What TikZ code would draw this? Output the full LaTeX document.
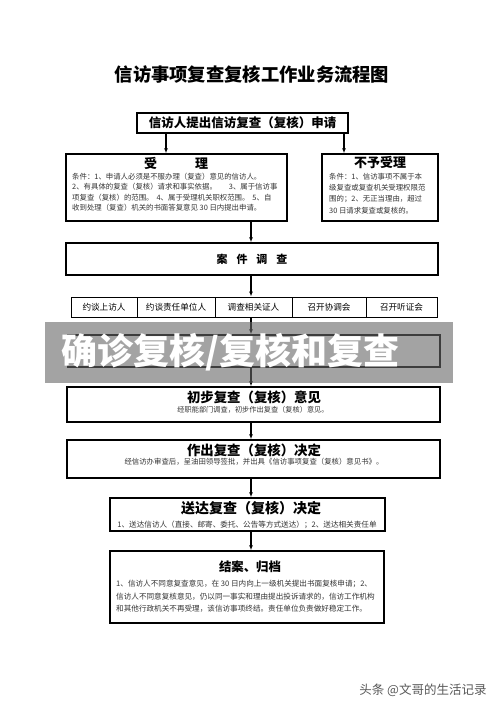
\documentclass[tikz,border=0pt]{standalone}
\usepackage{fontspec}
\setmainfont{Noto Sans CJK SC}
\usetikzlibrary{arrows.meta}
\newcommand{\fs}[1]{\fontsize{#1}{#1}\selectfont}
\begin{document}
\begin{tikzpicture}[x=1pt,y=-1pt,
  bx/.style={draw, line width=1.5pt, rectangle, inner sep=0pt},
  sbx/.style={draw, line width=0.9pt, rectangle, inner sep=0pt},
  ttl/.style={font=\fs{13.4}\bfseries, inner sep=0pt, anchor=center},
  sub/.style={font=\fs{7.2}, text=black!80, inner sep=0pt},
  lines/.style={font=\fs{7.4}, text=black!80, inner sep=0pt, anchor=north west, align=left},
  arr/.style={line width=1.1pt, -{Latex[length=5pt,width=4pt]}},
  rowt/.style={font=\fs{8.6}, inner sep=0pt}]
\useasboundingbox (0,0) rectangle (500,707);
\fill[white] (0,0) rectangle (500,707);

% title
\node[font=\fs{18.3}\bfseries, inner sep=0pt] (title) at (252,74) {信访事项复查复核工作业务流程图};

% top box
\node[bx, minimum width=211pt, minimum height=20pt] (top) at (242.5,123) {};
\node[font=\fs{12.5}\bfseries, inner sep=0pt] (topt) at (top.center) {信访人提出信访复查（复核）申请};

% accept
\node[bx, minimum width=221pt, minimum height=67pt] (acc) at (176.5,187.5) {};
\node[font=\fs{13}\bfseries, inner sep=0pt] (acct) at (176,163) {受\hspace{38pt}理};
\node[lines] (accb) at (72,172) {%
\rule{0pt}{7.4pt}条件：1、申请人必须是不服办理（复查）意见的信访人。\\[2.9pt]
2、有具体的复查（复核）请求和事实依据。\hspace{12pt}3、属于信访事\\[2.9pt]
项复查（复核）的范围。\hspace{3pt}4、属于受理机关职权范围。\hspace{3pt}5、自\\[2.9pt]
收到处理（复查）机关的书面答复意见 30 日内提出申请。};

% reject
\node[bx, minimum width=116pt, minimum height=67pt] (rej) at (380,187.5) {};
\node[font=\fs{13}\bfseries, inner sep=0pt] (rejt) at (380,163) {不予受理};
\node[lines] (rejb) at (329,172) {%
\rule{0pt}{7.4pt}条件：1、信访事项不属于本\\[3.6pt]
级复查或复查机关受理权限范\\[3.6pt]
围的；2、无正当理由，超过\\[3.6pt]
30 日请求复查或复核的。};

% investigation
\node[bx, minimum width=372pt, minimum height=32pt] (inv) at (252,259) {};
\node[font=\fs{11}\bfseries, inner sep=0pt] (invt) at (inv.center) {案\hspace{9pt}件\hspace{9pt}调\hspace{9pt}查};

% row of methods
\node[sbx, minimum width=66pt, minimum height=20pt] (r1) at (104,307) {};
\node[sbx, minimum width=78pt, minimum height=20pt] (r2) at (176,307) {};
\node[sbx, minimum width=77pt, minimum height=20pt] (r3) at (253.5,307) {};
\node[sbx, minimum width=74pt, minimum height=20pt] (r4) at (329,307) {};
\node[sbx, minimum width=71pt, minimum height=20pt] (r5) at (401.5,307) {};
\node[rowt] (r1t) at (r1.center) {约谈上访人};
\node[rowt] (r2t) at (r2.center) {约谈责任单位人};
\node[rowt] (r3t) at (r3.center) {调查相关证人};
\node[rowt] (r4t) at (r4.center) {召开协调会};
\node[rowt] (r5t) at (r5.center) {召开听证会};

% hidden box
\node[bx, minimum width=372pt, minimum height=32pt] (hid) at (254,351) {};

% preliminary opinion
\node[bx, minimum width=373pt, minimum height=35pt] (pre) at (253.5,404.5) {};
\node[ttl] (pret) at (254,397) {初步复查（复核）意见};
\node[sub] (pres) at (253,409.5) {经职能部门调查，初步作出复查（复核）意见。};

% decision
\node[bx, minimum width=373pt, minimum height=38pt] (dec) at (253.5,459) {};
\node[ttl] (dect) at (254,450.5) {作出复查（复核）决定};
\node[sub, font=\fs{7.4}] (decs) at (254,461.5) {经信访办审查后，呈油田领导签批，并出具《信访事项复查（复核）意见书》。};

% delivery
\node[bx, minimum width=275pt, minimum height=33pt] (del) at (247.5,514.5) {};
\node[ttl, font=\fs{14}\bfseries] (delt) at (251,508) {送达复查（复核）决定};
\node[sub, font=\fs{7.6}] (dels) at (247,524.5) {1、送达信访人（直接、邮寄、委托、公告等方式送达）；2、送达相关责任单};

% archive
\node[bx, minimum width=274pt, minimum height=72pt] (arc) at (247,587) {};
\node[ttl, font=\fs{12.4}\bfseries] (arct) at (250,567) {结案、归档};
\node[lines, font=\fs{7.6}] (arcb) at (116,578.5) {%
\rule{0pt}{7.6pt}1、信访人不同意复查意见，在 30 日内向上一级机关提出书面复核申请；2、\\[4.7pt]
信访人不同意复核意见，仍以同一事实和理由提出投诉请求的，信访工作机构\\[4.7pt]
和其他行政机关不再受理，该信访事项终结。责任单位负责做好稳定工作。};

% arrows
\draw[arr] (top.south -| 166,0) -- (acc.north -| 166,0);
\draw[arr] (top.south -| 344,0) -- (rej.north -| 344,0);
\draw[arr] (acc.south -| 251,0) -- (inv.north -| 251,0);
\draw[arr] (inv.south -| 251,0) -- (r3.north -| 251,0);
\draw[arr] (r3.south -| 251,0) -- (hid.north -| 251,0);
\draw[arr] (hid.south -| 251,0) -- (pre.north -| 251,0);
\draw[arr] (pre.south -| 251,0) -- (dec.north -| 251,0);
\draw[arr] (dec.south -| 251,0) -- (del.north -| 251,0);
\draw[arr] (del.south -| 251,0) -- (arc.north -| 251,0);

% banner overlay
\fill[black!60, fill opacity=0.6] (45,322) rectangle (453,383);
\node[font=\fs{36}\bfseries, text=white, inner sep=0pt, anchor=west] (ban) at (61,352) {确诊复核/复核和复查};

% watermark
\node[font=\fs{12.5}, text=black!65, inner sep=0pt] (wm) at (423,690) {头条 @文哥的生活记录};
\end{tikzpicture}
\end{document}
